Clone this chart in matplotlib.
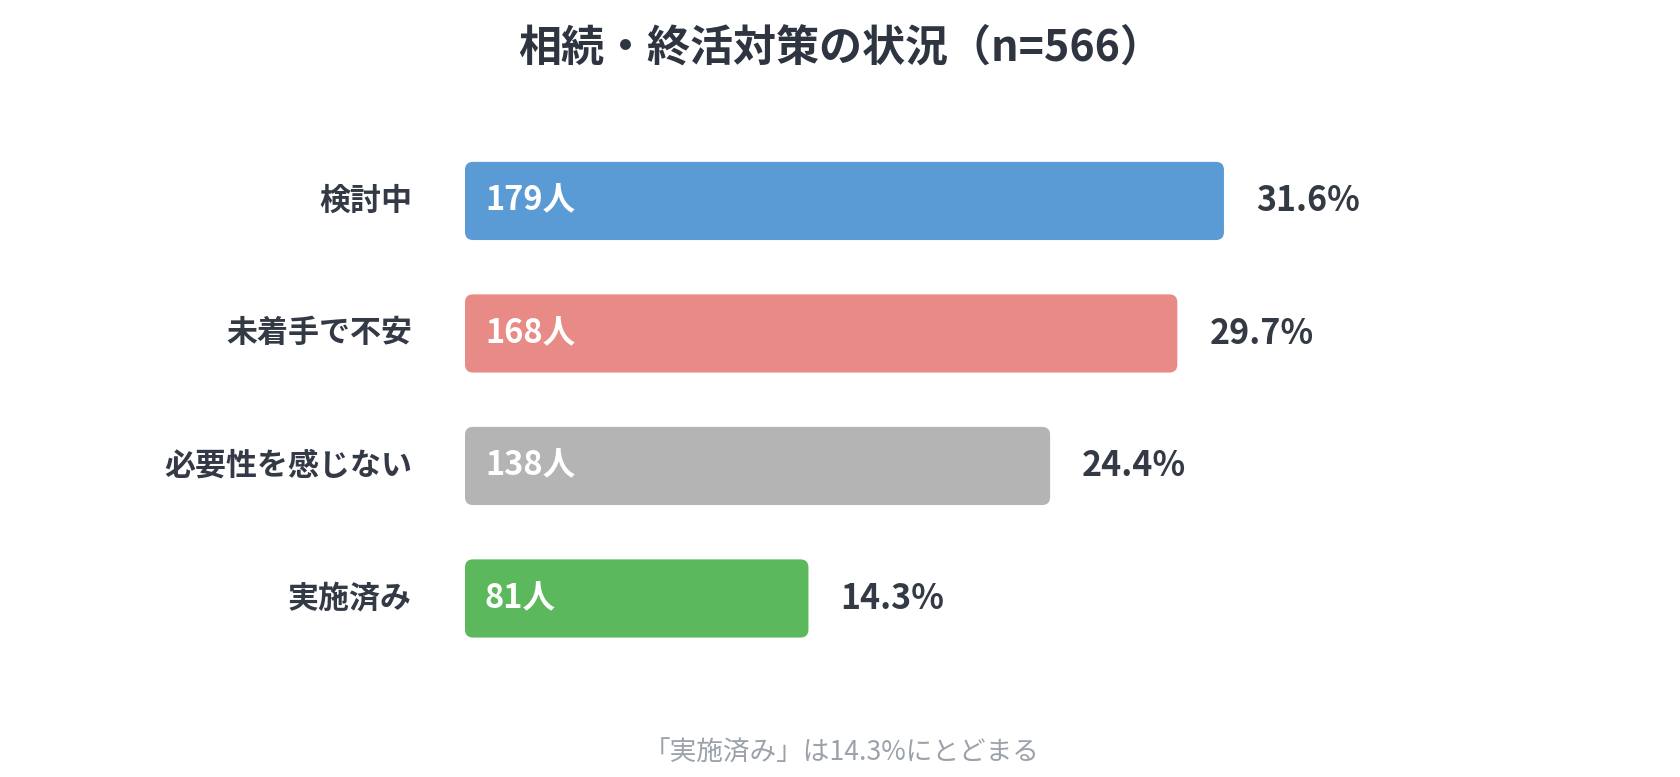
import matplotlib
matplotlib.use("Agg")
import matplotlib.pyplot as plt
from matplotlib.patches import FancyBboxPatch

plt.rcParams['font.family'] = ['Noto Sans CJK JP', 'DejaVu Sans']

categories = ["検討中", "未着手で不安", "必要性を感じない", "実施済み"]
counts = [179, 168, 138, 81]
percents = [31.6, 29.7, 24.4, 14.3]
colors = ["#5b9bd5", "#e88a85", "#b4b4b4", "#5cb85c"]
title = "相続・終活対策の状況（n=566）"
note = "「実施済み」は14.3%にとどまる"

W, H = 1680, 777
fig = plt.figure(figsize=(W / 100, H / 100), dpi=100)
ax = fig.add_axes([465 / W, 1 - 664.7 / H, 1060 / W, 530 / H])
ax.set_xlim(0, 250)
ax.set_ylim(3.5, -0.5)
ax.axis('off')

bar_h = 0.59
bars = ax.barh(range(len(categories)), counts, height=bar_h, color=colors)

# replace with rounded bars
fig.canvas.draw()
px_x = ax.transData.transform((1, 0))[0] - ax.transData.transform((0, 0))[0]
px_y = abs(ax.transData.transform((0, 1))[1] - ax.transData.transform((0, 0))[1])
r_px = 8
r_x = r_px / px_x
aspect = (r_px / px_y) / r_x
for b in bars:
    x0, y0, w, h = b.get_x(), b.get_y(), b.get_width(), b.get_height()
    b.set_visible(False)
    p = FancyBboxPatch((x0, y0), w, h,
                       boxstyle=f"round,pad=0,rounding_size={r_x}",
                       mutation_aspect=aspect,
                       facecolor=b.get_facecolor(), edgecolor='none')
    ax.add_patch(p)

dark = "#343a45"
for i, (c, n, p) in enumerate(zip(categories, counts, percents)):
    ax.text(-53 / px_x, i, c, ha='right', va='center', fontsize=22.3,
            fontweight='bold', color=dark)
    ax.text(20 / px_x, i, f"{n}人", ha='left', va='center', fontsize=23.5,
            fontweight='bold', color='white')
    ax.text(n + 32 / px_x, i, f"{p}%", ha='left', va='center', fontsize=24.5,
            fontweight='bold', color=dark)

fig.text(0.5003, 1 - 48 / H, title, ha='center', va='center', fontsize=31,
         fontweight='bold', color="#2e3541")
fig.text(0.501, 1 - 753 / H, note, ha='center', va='center', fontsize=19.2,
         color="#9ca2aa")

fig.savefig("out.png", dpi=100, facecolor='white')
